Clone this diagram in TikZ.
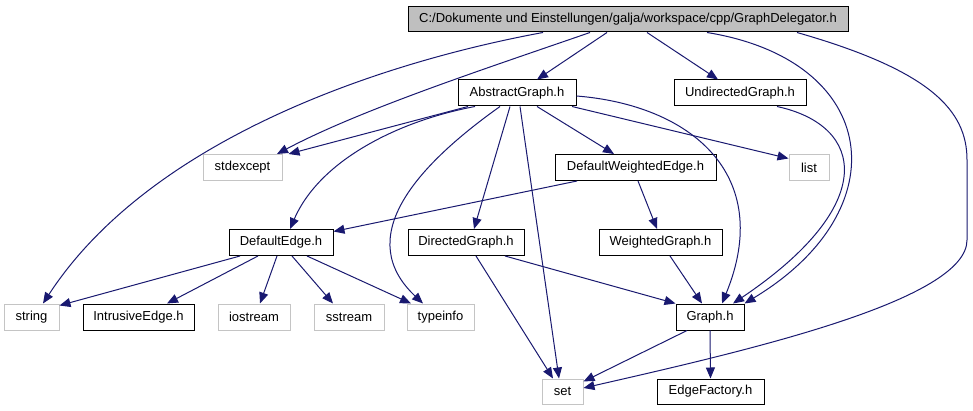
\documentclass[tikz,border=0pt]{standalone}
\usepackage{fontspec}
\setmainfont{Liberation Sans}
\usetikzlibrary{arrows.meta}
\definecolor{edgeblue}{HTML}{191970}
\definecolor{sysgray}{HTML}{C4C4C4}
\definecolor{topgray}{HTML}{BFBFBF}
\begin{document}
\begin{tikzpicture}[x=1pt,y=-1pt,
  box/.style={draw=black,line width=1pt,fill=white,inner sep=0pt,minimum height=26pt,
    font=\fontsize{13}{15}\selectfont},
  sysbox/.style={box,draw=sysgray},
  topbox/.style={box,fill=topgray,minimum height=25pt},
  edge/.style={draw=edgeblue,line width=1pt,-{Triangle[length=11pt,width=9pt]}}]
\useasboundingbox[fill=white] (0,0) rectangle (973,411);
% nodes
\node[topbox,minimum width=440pt] (gd) at (628,19.5) {C:/Dokumente und Einstellungen/galja/workspace/cpp/GraphDelegator.h};
\node[box,minimum width=118pt] (ag) at (517,93) {AbstractGraph.h};
\node[box,minimum width=132pt] (ug) at (740,93) {UndirectedGraph.h};
\node[sysbox,minimum width=79pt] (se) at (242.5,167.5) {stdexcept};
\node[box,minimum width=161pt] (dwe) at (635.5,167.5) {DefaultWeightedEdge.h};
\node[sysbox,minimum width=40pt] (li) at (809,168) {list};
\node[box,minimum width=104pt] (de) at (281,242.5) {DefaultEdge.h};
\node[box,minimum width=116pt] (dg) at (466,242.5) {DirectedGraph.h};
\node[box,minimum width=123pt] (wg) at (660.5,242.5) {WeightedGraph.h};
\node[sysbox,minimum width=55pt] (st) at (31.5,317) {string};
\node[box,minimum width=111pt] (ie) at (138.5,317) {IntrusiveEdge.h};
\node[sysbox,minimum width=72pt] (io) at (254,317) {iostream};
\node[sysbox,minimum width=70pt] (ss) at (349,317) {sstream};
\node[sysbox,minimum width=67pt] (ti) at (440.5,317) {typeinfo};
\node[box,minimum width=68pt] (gr) at (710,317) {Graph.h};
\node[sysbox,minimum width=41pt,minimum height=25pt] (set) at (562.5,391.5) {set};
\node[box,minimum width=107pt,minimum height=25pt] (ef) at (710.5,391.5) {EdgeFactory.h};
\coordinate (bendA) at (967,160);
\coordinate (bendB) at (967,240);
% GraphDelegator edges
\draw[edge] ([xshift=-85pt]gd.south) .. controls +(-163,30) and +(107,-164) .. ([xshift=11.5pt]st.north);
\draw[edge] ([xshift=-38pt]gd.south) .. controls +(-110,38) and +(83,-44) .. ([xshift=34.5pt]se.north);
\draw[edge] ([xshift=-21pt]gd.south) -- ([xshift=20pt]ag.north);
\draw[edge] ([xshift=19pt]gd.south) -- ([xshift=-22pt]ug.north);
\draw[edge] ([xshift=79pt]gd.south) .. controls +(173,28) and +(156,-94) .. (gr.north east);
\draw[edge] ([xshift=169pt]gd.south) .. controls +(133,38) and +(0,-50) .. (bendA) -- (bendB)
  .. controls +(0,60) and +(167,-38) .. ([yshift=3.5pt]set.east);
% AbstractGraph edges
\draw[edge] ([xshift=-49pt]ag.south) -- ([xshift=6pt]se.north east);
\draw[edge] ([xshift=-42pt]ag.south) .. controls +(-75,14) and +(30,-69.5) .. ([xshift=9pt]de.north);
\draw[edge] ([xshift=-17pt]ag.south) .. controls +(-90,64) and +(-68,-64) .. ([xshift=-17.5pt]ti.north);
\draw[edge] ([xshift=-7pt]ag.south) -- ([xshift=8pt]dg.north);
\draw[edge] ([xshift=3pt]ag.south) -- ([xshift=-3.5pt]set.north);
\draw[edge] ([xshift=20pt]ag.south) -- ([xshift=-21.5pt]dwe.north);
\draw[edge] ([xshift=55pt]ag.south) -- ([yshift=-4pt]li.north west);
\draw[edge] ([yshift=-3pt]ag.east) .. controls +(114,9) and +(53,-129) .. ([xshift=12pt]gr.north);
% UndirectedGraph
\draw[edge] ([xshift=37pt]ug.south) .. controls +(88,19) and +(147,-99) .. ([xshift=23pt]gr.north);
% DefaultWeightedEdge
\draw[edge] ([xshift=-58.5pt]dwe.south) -- ([yshift=-2.5pt]de.north east);
\draw[edge] ([xshift=2.5pt]dwe.south) -- ([xshift=-3.5pt]wg.north);
% DefaultEdge
\draw[edge] ([xshift=-41pt]de.south) -- ([yshift=-2pt]st.north east);
\draw[edge] ([xshift=-23pt]de.south) -- ([xshift=28.5pt]ie.north);
\draw[edge] ([xshift=-4pt]de.south) -- ([xshift=6pt]io.north);
\draw[edge] ([xshift=11pt]de.south) -- ([xshift=-16pt]ss.north);
\draw[edge] ([xshift=26pt]de.south) -- ([xshift=-29.5pt]ti.north);
% DirectedGraph
\draw[edge] ([xshift=39pt]dg.south) -- (gr.north west);
\draw[edge] ([xshift=10pt]dg.south) -- ([xshift=-9.5pt]set.north);
% WeightedGraph
\draw[edge] ([xshift=9.5pt]wg.south) -- ([xshift=-8pt]gr.north);
% Graph
\draw[edge] ([xshift=-23pt]gr.south) -- ([yshift=-3pt]set.north east);
\draw[edge] (gr.south) -- (ef.north);
\end{tikzpicture}
\end{document}
